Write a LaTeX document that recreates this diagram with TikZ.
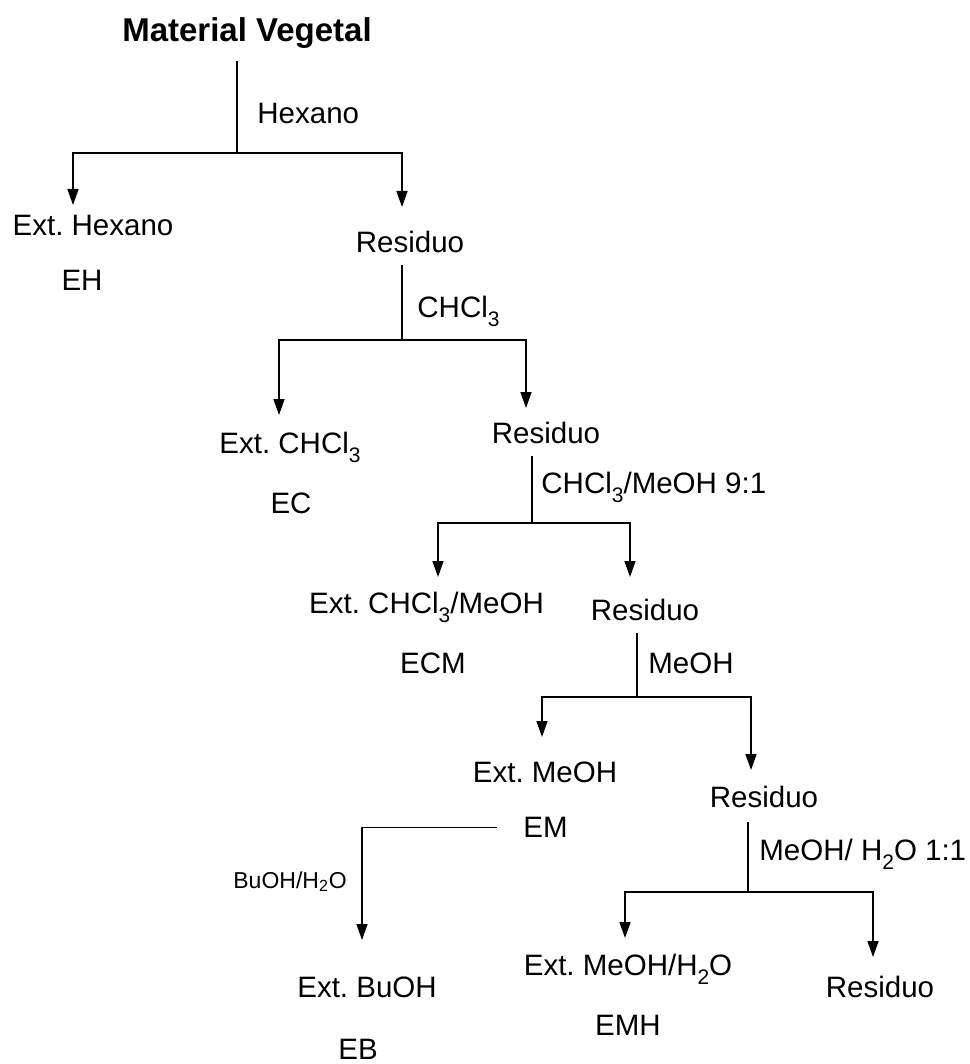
\documentclass[tikz,border=0pt]{standalone}
\usepackage{fontspec}
\setmainfont{Liberation Sans}
\usetikzlibrary{arrows.meta}
\newcommand{\lowidx}[1]{\raisebox{-0.3em}{\fontsize{10.5}{10.5}\selectfont #1}}

\begin{document}
\frenchspacing
\begin{tikzpicture}
        [x=0.5pt, y=-0.5pt,
         txt/.style={anchor=base, inner sep=0pt, font=\fontsize{14.75}{17}\selectfont},
         solv/.style={txt, anchor=base west},
         small/.style={anchor=base west, inner sep=0pt, font=\fontsize{11.5}{14}\selectfont},
         line/.style={line width=0.8pt},
         flow/.style={line, -{Triangle[length=8pt,width=5.5pt]}}]
        \useasboundingbox (0,0) rectangle (969,1064);
        % extracts and residues
        \node (title) at (247,42) [txt, font=\bfseries\fontsize{16.5}{19}\selectfont] {Material Vegetal};
        \node (exh)  at (93,235)    [txt] {Ext. Hexano};
        \node (eh)   at (82,290.5)  [txt] {EH};
        \node (res1) at (410,252.5) [txt] {Residuo};
        \node (exc)  at (290,453.5) [txt] {Ext. CHCl\lowidx{3}};
        \node (ec)   at (291,513.5) [txt] {EC};
        \node (res2) at (546,443.5) [txt] {Residuo};
        \node (excm) at (426.5,613.5) [txt] {Ext. CHCl\lowidx{3}/MeOH};
        \node (ecm)  at (433,673.5) [txt] {ECM};
        \node (res3) at (645,620.5) [txt] {Residuo};
        \node (exm)  at (545,782.5) [txt] {Ext. MeOH};
        \node (em)   at (545.5,837.5) [txt] {EM};
        \node (res4) at (764,807.5) [txt] {Residuo};
        \node (exb)  at (367,997.5) [txt] {Ext. BuOH};
        \node (eb)   at (358,1059)  [txt] {EB};
        \node (exmh) at (628,975.5) [txt] {Ext. MeOH/H\lowidx{2}O};
        \node (emh)  at (628,1035.5) [txt] {EMH};
        \node (res5) at (880,997.5) [txt] {Residuo};
        % solvents
        \node (hex)  at (257,123.5) [solv] {Hexano};
        \node (chcl) at (417,317.5) [solv] {CHCl\lowidx{3}};
        \node (mix)  at (541,493.5) [solv] {CHCl\lowidx{3}/MeOH 9:1};
        \node (meoh) at (648,673.5) [solv] {MeOH};
        \node (aq)   at (759,860.5) [solv] {MeOH/ H\lowidx{2}O 1:1};
        \node (bu)   at (233,888)   [small] {BuOH/H\textsubscript{2}O};
        % branch points and arrow ends
        \coordinate (j1) at (237,153); \coordinate (a1) at (73,205);  \coordinate (b1) at (402,207);
        \coordinate (j2) at (402,340); \coordinate (a2) at (279,415); \coordinate (b2) at (526,408);
        \coordinate (j3) at (532,523); \coordinate (a3) at (438,577); \coordinate (b3) at (630,577);
        \coordinate (j4) at (637,697); \coordinate (a4) at (542,737); \coordinate (b4) at (751,770);
        \coordinate (j5) at (748,892); \coordinate (a5) at (625,938); \coordinate (b5) at (873,957);
        \coordinate (tb) at (362,940);
        % connectors
        \draw[line, shorten <=6pt] (title.south -| j1) -- (j1);
        \draw[flow] (j1) -| (a1);
        \draw[flow] (j1) -| (b1);
        \draw[line, shorten <=6pt] (res1.south -| j2) -- (j2);
        \draw[flow] (j2) -| (a2);
        \draw[flow] (j2) -| (b2);
        \draw[line, shorten <=6pt] (res2.south -| j3) -- (j3);
        \draw[flow] (j3) -| (a3);
        \draw[flow] (j3) -| (b3);
        \draw[line, shorten <=6pt] (res3.south -| j4) -- (j4);
        \draw[flow] (j4) -| (a4);
        \draw[flow] (j4) -| (b4);
        \draw[line, shorten <=7pt] (res4.south -| j5) -- (j5);
        \draw[flow] (j5) -| (a5);
        \draw[flow] (j5) -| (b5);
        \draw[flow, shorten <=13pt] (em.west) -| (tb);
\end{tikzpicture}
\end{document}
